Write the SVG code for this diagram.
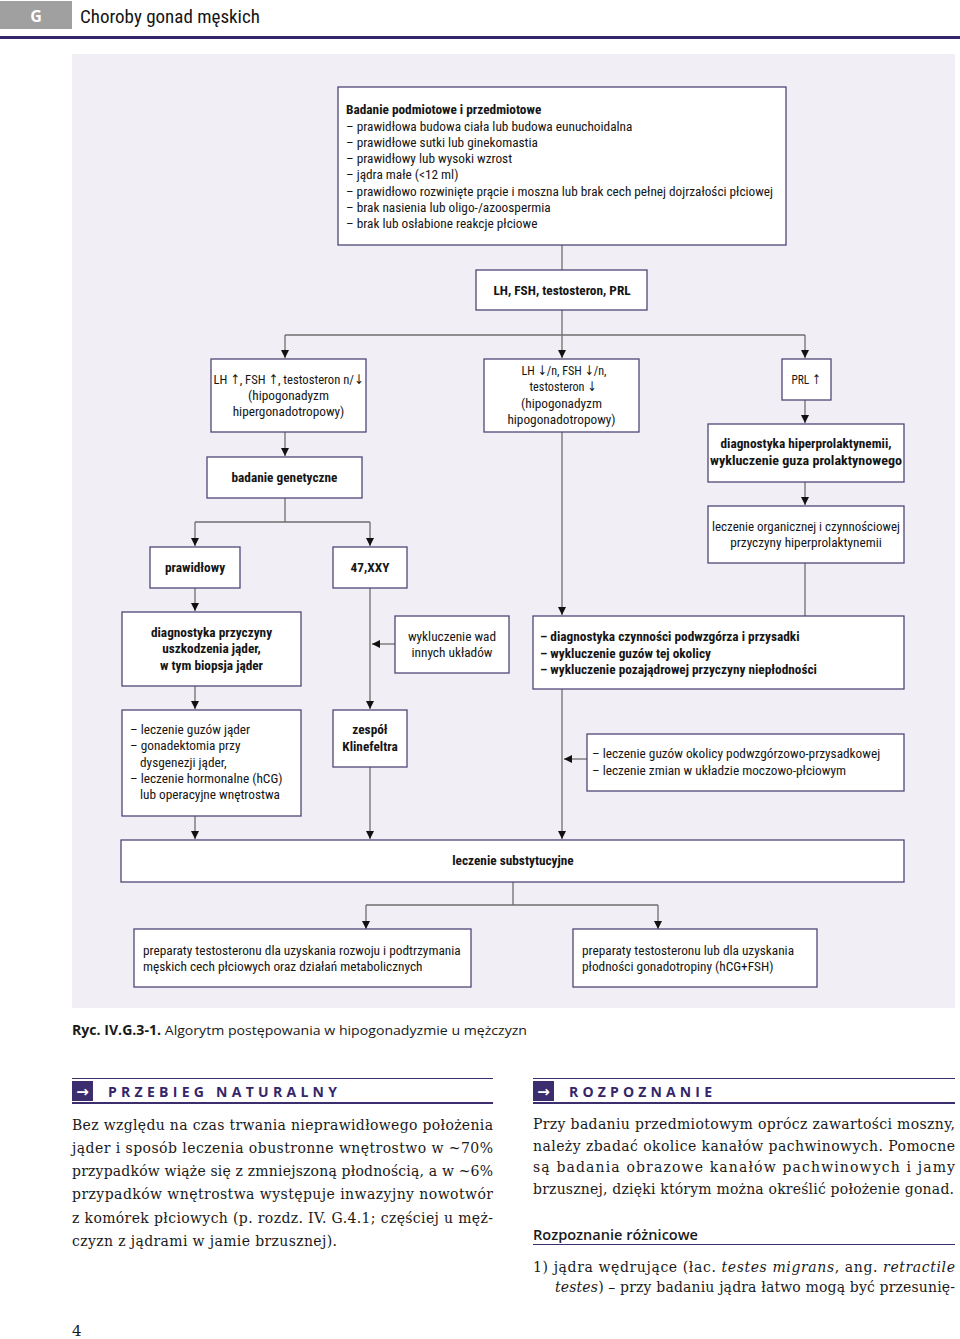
<svg xmlns="http://www.w3.org/2000/svg" width="960" height="1339" viewBox="0 0 960 1339">
<style>
.n{font-family:"Liberation Sans Narrow","Roboto Condensed","DejaVu Sans Condensed",sans-serif;font-size:13.3px;fill:#151515}
.b{font-weight:bold}
.c{text-anchor:middle}
.box{fill:#fff;stroke:#4f4578;stroke-width:1.3}
.ln{fill:none;stroke:#6e6e6e;stroke-width:1.3}
.ar{marker-end:url(#ah)}
.body{font-family:"DejaVu Serif","Liberation Serif",serif;font-size:14px;fill:#1a1a1a}
.sec{font-family:"Open Sans","DejaVu Sans",sans-serif;font-weight:bold;font-size:14px;fill:#35266a}
.pl{stroke:#3b2d6e;fill:none}
</style>
<defs>
<marker id="ah" markerUnits="userSpaceOnUse" markerWidth="10" markerHeight="10" refX="8" refY="4" orient="auto">
<path d="M0,0 L8,4 L0,8 z" fill="#111"/>
</marker>
</defs>
<rect width="960" height="1339" fill="#fff"/>
<g id="header">
<rect x="0" y="1" width="72" height="28" fill="#a0a0a0"/>
<text x="36" y="22" class="c" font-family="Open Sans, DejaVu Sans, sans-serif" font-weight="bold" font-size="16" fill="#fff">G</text>
<text x="80" y="23" class="n" style="font-size:19px">Choroby gonad męskich</text>
<rect x="0" y="36" width="960" height="3" fill="#35256b"/>
</g>
<rect x="72" y="54" width="883" height="954" fill="#f1eff5"/>
<g id="connectors">
<path class="ln" d="M562,245 V270"/>
<path class="ln ar" d="M562,310 V358"/>
<path class="ln" d="M285,335 H805"/>
<path class="ln ar" d="M285,335 V358"/>
<path class="ln ar" d="M805,335 V358"/>
<path class="ln ar" d="M285,432 V456"/>
<path class="ln" d="M285,498 V522 M195,522 H370"/>
<path class="ln ar" d="M195,522 V546"/>
<path class="ln ar" d="M370,522 V546"/>
<path class="ln ar" d="M195,588 V611"/>
<path class="ln ar" d="M195,686 V709"/>
<path class="ln ar" d="M195,816 V839"/>
<path class="ln ar" d="M370,588 V709"/>
<path class="ln ar" d="M395,644 H372"/>
<path class="ln ar" d="M370,767 V839"/>
<path class="ln ar" d="M562,432 V615"/>
<path class="ln ar" d="M805,400 V423"/>
<path class="ln ar" d="M805,482 V505"/>
<path class="ln" d="M805,563 V616"/>
<path class="ln ar" d="M562,689 V839"/>
<path class="ln ar" d="M587,759 H564"/>
<path class="ln" d="M513,882 V905 M366,905 H658"/>
<path class="ln ar" d="M366,905 V929"/>
<path class="ln ar" d="M658,905 V929"/>
</g>
<g id="n_badanie">
<rect class="box" x="338" y="87" width="448" height="158"/>
<text class="n b" x="346" y="114">Badanie podmiotowe i przedmiotowe</text>
<text class="n" x="346" y="130.5">– prawidłowa budowa ciała lub budowa eunuchoidalna</text>
<text class="n" x="346" y="146.8">– prawidłowe sutki lub ginekomastia</text>
<text class="n" x="346" y="163">– prawidłowy lub wysoki wzrost</text>
<text class="n" x="346" y="179.3">– jądra małe (&lt;12 ml)</text>
<text class="n" x="346" y="195.6" textLength="427" lengthAdjust="spacingAndGlyphs">– prawidłowo rozwinięte prącie i moszna lub brak cech pełnej dojrzałości płciowej</text>
<text class="n" x="346" y="211.9">– brak nasienia lub oligo-/azoospermia</text>
<text class="n" x="346" y="228.2">– brak lub osłabione reakcje płciowe</text>
</g>
<g id="n_hormony">
<rect class="box" x="476" y="270" width="171" height="40"/>
<text class="n b c" x="562" y="294.5">LH, FSH, testosteron, PRL</text>
</g>
<g id="n_hiper">
<rect class="box" x="211" y="359" width="155" height="73"/>
<text class="n c" x="288.5" y="384" textLength="150" lengthAdjust="spacingAndGlyphs">LH ↑, FSH ↑, testosteron n/↓</text>
<text class="n c" x="288.5" y="400">(hipogonadyzm</text>
<text class="n c" x="288.5" y="416">hipergonadotropowy)</text>
</g>
<g id="n_hipo">
<rect class="box" x="484" y="359" width="155" height="73"/>
<text class="n c" x="564" y="375" textLength="85" lengthAdjust="spacingAndGlyphs">LH ↓/n, FSH ↓/n,</text>
<text class="n c" x="563" y="391" textLength="67" lengthAdjust="spacingAndGlyphs">testosteron ↓</text>
<text class="n c" x="561.5" y="407.5">(hipogonadyzm</text>
<text class="n c" x="561.5" y="424">hipogonadotropowy)</text>
</g>
<g id="n_prl">
<rect class="box" x="782" y="359" width="49" height="41"/>
<text class="n c" x="806" y="384" textLength="29" lengthAdjust="spacingAndGlyphs">PRL ↑</text>
</g>
<g id="n_diaghiper">
<rect class="box" x="708" y="424" width="196" height="58"/>
<text class="n b c" x="806" y="448">diagnostyka hiperprolaktynemii,</text>
<text class="n b c" x="806" y="465" textLength="192" lengthAdjust="spacingAndGlyphs">wykluczenie guza prolaktynowego</text>
</g>
<g id="n_leczorg">
<rect class="box" x="708" y="506" width="196" height="57"/>
<text class="n c" x="806" y="531" textLength="188" lengthAdjust="spacingAndGlyphs">leczenie organicznej i czynnościowej</text>
<text class="n c" x="806" y="547">przyczyny hiperprolaktynemii</text>
</g>
<g id="n_genet">
<rect class="box" x="207" y="457" width="155" height="41"/>
<text class="n b c" x="284.5" y="481.5">badanie genetyczne</text>
</g>
<g id="n_prawidlowy">
<rect class="box" x="150" y="547" width="90" height="41"/>
<text class="n b c" x="195" y="571.5">prawidłowy</text>
</g>
<g id="n_xxy">
<rect class="box" x="333" y="547" width="74" height="41"/>
<text class="n b c" x="370" y="571.5">47,XXY</text>
</g>
<g id="n_diagprz">
<rect class="box" x="122" y="612" width="179" height="74"/>
<text class="n b c" x="211.5" y="637">diagnostyka przyczyny</text>
<text class="n b c" x="211.5" y="653">uszkodzenia jąder,</text>
<text class="n b c" x="211.5" y="669.5">w tym biopsja jąder</text>
</g>
<g id="n_wady">
<rect class="box" x="395" y="616" width="114" height="57"/>
<text class="n c" x="452" y="640.5">wykluczenie wad</text>
<text class="n c" x="452" y="656.5">innych układów</text>
</g>
<g id="n_diagczyn">
<rect class="box" x="533" y="616" width="371" height="73"/>
<text class="n b" x="540" y="641">– diagnostyka czynności podwzgórza i przysadki</text>
<text class="n b" x="540" y="657.5">– wykluczenie guzów tej okolicy</text>
<text class="n b" x="540" y="674">– wykluczenie pozajądrowej przyczyny niepłodności</text>
</g>
<g id="n_leczjader">
<rect class="box" x="122" y="710" width="179" height="106"/>
<text class="n" x="130" y="734">– leczenie guzów jąder</text>
<text class="n" x="130" y="750.3">– gonadektomia przy</text>
<text class="n" x="140" y="766.6">dysgenezji jąder,</text>
<text class="n" x="130" y="782.9">– leczenie hormonalne (hCG)</text>
<text class="n" x="140" y="799.2">lub operacyjne wnętrostwa</text>
</g>
<g id="n_klinefelter">
<rect class="box" x="333" y="710" width="74" height="57"/>
<text class="n b c" x="370" y="734">zespół</text>
<text class="n b c" x="370" y="750.5">Klinefeltra</text>
</g>
<g id="n_leczokol">
<rect class="box" x="587" y="734" width="317" height="57"/>
<text class="n" x="592" y="758">– leczenie guzów okolicy podwzgórzowo-przysadkowej</text>
<text class="n" x="592" y="775">– leczenie zmian w układzie moczowo-płciowym</text>
</g>
<g id="n_subst">
<rect class="box" x="121" y="840" width="783" height="42"/>
<text class="n b c" x="513" y="865">leczenie substytucyjne</text>
</g>
<g id="n_prep1">
<rect class="box" x="134" y="929" width="337" height="58"/>
<text class="n" x="143" y="954.5">preparaty testosteronu dla uzyskania rozwoju i podtrzymania</text>
<text class="n" x="143" y="971">męskich cech płciowych oraz działań metabolicznych</text>
</g>
<g id="n_prep2">
<rect class="box" x="573" y="929" width="244" height="58"/>
<text class="n" x="582" y="954.5">preparaty testosteronu lub dla uzyskania</text>
<text class="n" x="582" y="971">płodności gonadotropiny (hCG+FSH)</text>
</g>
<g id="caption">
<text x="72" y="1035" font-family="Open Sans, DejaVu Sans, sans-serif" font-size="13.5" fill="#1a1a1a" textLength="455" lengthAdjust="spacingAndGlyphs"><tspan font-weight="bold">Ryc. IV.G.3-1.</tspan> Algorytm postępowania w hipogonadyzmie u mężczyzn</text>
</g>
<g id="sec_left">
<path class="pl" stroke-width="1" d="M72,1078.5 H493"/>
<path class="pl" stroke-width="2" d="M72,1103 H493"/>
<rect x="72" y="1081" width="21" height="20" fill="#3b2d6e"/>
<text x="82.5" y="1097" text-anchor="middle" font-family="DejaVu Sans, sans-serif" font-weight="bold" font-size="15" fill="#fff">→</text>
<text class="sec" x="108" y="1097" textLength="229" lengthAdjust="spacing">PRZEBIEG NATURALNY</text>
<text class="body" x="72" y="1130" textLength="421" lengthAdjust="spacing">Bez względu na czas trwania nieprawidłowego położenia</text>
<text class="body" x="72" y="1153" textLength="421" lengthAdjust="spacing">jąder i sposób leczenia obustronne wnętrostwo w ~70%</text>
<text class="body" x="72" y="1176" textLength="421" lengthAdjust="spacing">przypadków wiąże się z zmniejszoną płodnością, a w ~6%</text>
<text class="body" x="72" y="1199" textLength="421" lengthAdjust="spacing">przypadków wnętrostwa występuje inwazyjny nowotwór</text>
<text class="body" x="72" y="1222.5" textLength="421" lengthAdjust="spacing">z komórek płciowych (p. rozdz. IV. G.4.1; częściej u męż-</text>
<text class="body" x="72" y="1246" textLength="265" lengthAdjust="spacing">czyzn z jądrami w jamie brzusznej).</text>
</g>
<g id="sec_right">
<path class="pl" stroke-width="1" d="M533,1078.5 H955"/>
<path class="pl" stroke-width="2" d="M533,1103 H955"/>
<rect x="533" y="1081" width="21" height="20" fill="#3b2d6e"/>
<text x="543.5" y="1097" text-anchor="middle" font-family="DejaVu Sans, sans-serif" font-weight="bold" font-size="15" fill="#fff">→</text>
<text class="sec" x="569" y="1097" textLength="143" lengthAdjust="spacing">ROZPOZNANIE</text>
<text class="body" x="533" y="1129" textLength="422" lengthAdjust="spacing">Przy badaniu przedmiotowym oprócz zawartości moszny,</text>
<text class="body" x="533" y="1150.5" textLength="422" lengthAdjust="spacing">należy zbadać okolice kanałów pachwinowych. Pomocne</text>
<text class="body" x="533" y="1172" textLength="422" lengthAdjust="spacing">są badania obrazowe kanałów pachwinowych i jamy</text>
<text class="body" x="533" y="1193.5" textLength="421" lengthAdjust="spacing">brzusznej, dzięki którym można określić położenie gonad.</text>
<text x="533" y="1240" font-family="Open Sans, DejaVu Sans, sans-serif" font-weight="600" font-size="14.5" fill="#1a1a1a" textLength="165" lengthAdjust="spacingAndGlyphs">Rozpoznanie różnicowe</text>
<path class="pl" stroke-width="1" d="M533,1244.5 H955"/>
<text class="body" x="533" y="1272" textLength="422" lengthAdjust="spacing">1) jądra wędrujące (łac. <tspan font-style="italic">testes migrans</tspan>, ang. <tspan font-style="italic">retractile</tspan></text>
<text class="body" x="555" y="1292" textLength="400" lengthAdjust="spacing"><tspan font-style="italic">testes</tspan>) – przy badaniu jądra łatwo mogą być przesunię-</text>
</g>
<text x="72" y="1336" font-family="DejaVu Serif, serif" font-size="15" fill="#1a1a1a">4</text>
</svg>
